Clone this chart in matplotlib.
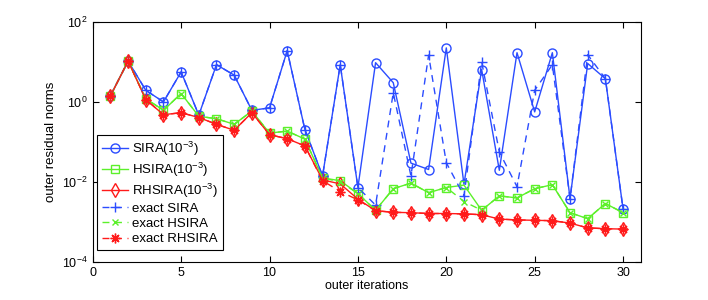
import numpy as np
import matplotlib
matplotlib.use('Agg')
import matplotlib.pyplot as plt
from matplotlib.ticker import FixedLocator, NullLocator, LogFormatterMathtext

plt.rcParams['font.family'] = ['Liberation Sans', 'DejaVu Sans']
plt.rcParams['mathtext.fontset'] = 'custom'
plt.rcParams['mathtext.rm'] = 'Liberation Sans'

iters = np.arange(1, 31)

# log10 of the outer residual norms
sira_log = [0.15, 1.02, 0.29, 0.0, 0.75, -0.33, 0.93, 0.67, -0.21, -0.15,
            1.28, -0.69, -1.85, 0.93, -2.14, 0.98, 0.48, -1.53, -1.69, 1.35,
            -2.06, 0.81, -1.71, 1.23, -0.25, 1.23, -2.42, 0.96, 0.58, -2.68]
hsira_log = [0.15, 1.02, 0.08, -0.21, 0.21, -0.36, -0.42, -0.56, -0.23, -0.78,
             -0.73, -0.93, -1.90, -1.97, -2.29, -2.71, -2.17, -2.03, -2.27, -2.14,
             -2.08, -2.71, -2.35, -2.40, -2.17, -2.07, -2.77, -2.92, -2.54, -2.77]
rhsira_log = [0.15, 1.02, 0.06, -0.32, -0.27, -0.39, -0.56, -0.71, -0.27, -0.82,
              -0.92, -1.10, -1.95, -2.05, -2.43, -2.72, -2.76, -2.77, -2.79, -2.79,
              -2.80, -2.82, -2.93, -2.95, -2.96, -2.97, -3.03, -3.15, -3.17, -3.18]
ex_sira_log = [0.15, 1.02, 0.29, 0.0, 0.75, -0.33, 0.93, 0.67, -0.21, -0.15,
               1.28, -0.69, -1.85, 0.93, -2.14, -2.58, 0.23, -1.85, 1.17, -1.52,
               -2.35, 1.00, -1.25, -2.12, 0.29, 0.93, -2.42, 1.18, 0.58, -2.68]
ex_hsira_log = [0.15, 1.02, 0.08, -0.21, 0.21, -0.36, -0.42, -0.56, -0.23, -0.78,
                -0.73, -0.93, -1.90, -2.00, -2.29, -2.71, -2.17, -2.03, -2.27, -2.14,
                -2.49, -2.71, -2.35, -2.40, -2.17, -2.07, -2.77, -2.92, -2.54, -2.77]
ex_rhsira_log = [0.15, 1.02, 0.06, -0.32, -0.27, -0.39, -0.56, -0.71, -0.27, -0.82,
                 -0.92, -1.10, -1.97, -2.24, -2.45, -2.72, -2.76, -2.77, -2.79, -2.79,
                 -2.80, -2.82, -2.93, -2.95, -2.96, -2.97, -3.03, -3.15, -3.17, -3.18]

blue = '#2b4cff'
green = '#5cf02a'
red = '#ff1a1a'
asterisk = (8, 2, 0)

fig = plt.figure(figsize=(7.08, 3.0), dpi=100)
ax = fig.add_axes([0.131, 0.127, 0.774, 0.8])

ax.plot(iters, 10 ** np.array(sira_log), '-o', color=blue, lw=1, ms=6.5,
        mfc='none', label='SIRA(10$^{-3}$)')
ax.plot(iters, 10 ** np.array(hsira_log), '-s', color=green, lw=1, ms=6,
        mfc='none', label='HSIRA(10$^{-3}$)')
ax.plot(iters, 10 ** np.array(rhsira_log), '-d', color=red, lw=1, ms=7.5,
        mfc='none', label='RHSIRA(10$^{-3}$)')
ax.plot(iters, 10 ** np.array(ex_sira_log), '--', marker='+', color=blue, lw=1,
        ms=7, label='exact SIRA', dashes=(5, 4))
ax.plot(iters, 10 ** np.array(ex_hsira_log), '--', marker='x', color=green, lw=1,
        ms=5, label='exact HSIRA', dashes=(5, 4))
ax.plot(iters, 10 ** np.array(ex_rhsira_log), '--', marker=asterisk, color=red,
        lw=1, ms=7, label='exact RHSIRA', dashes=(5, 4))

ax.set_yscale('log')
ax.set_xlim(0, 31)
ax.set_ylim(1e-4, 1e2)
ax.set_xticks(range(0, 31, 5))
ax.yaxis.set_major_locator(FixedLocator([1e-4, 1e-2, 1e0, 1e2]))
ax.yaxis.set_major_formatter(LogFormatterMathtext())
ax.yaxis.set_minor_locator(NullLocator())
ax.tick_params(direction='in', top=True, right=True, labelsize=9, length=4)
for s in ax.spines.values():
    s.set_linewidth(0.8)

ax.set_xlabel('outer iterations', fontsize=9, labelpad=1)
ax.set_ylabel('outer residual norms', fontsize=9.5, labelpad=4)

leg = ax.legend(loc='upper left', bbox_to_anchor=(0.008, 0.53), borderaxespad=0,
                fontsize=9.5, fancybox=False, edgecolor='black', framealpha=1,
                handlelength=2.0, labelspacing=0.22, handletextpad=0.3,
                borderpad=0.35)
leg.get_frame().set_linewidth(0.8)

fig.savefig('out.png', dpi=100)
